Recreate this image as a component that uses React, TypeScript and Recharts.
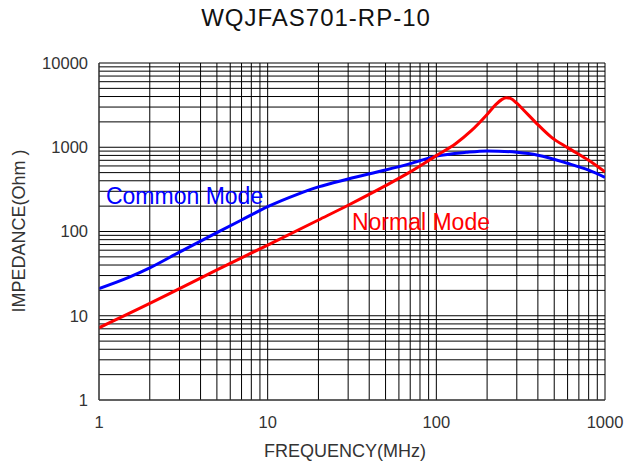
import { LineChart, Line, XAxis, YAxis, CartesianGrid, ReferenceDot } from 'recharts';

// frequency in MHz, impedance in Ohm
const cmFreq: number[] = [1, 1.5, 2, 3, 5, 7, 10, 15, 20, 30, 50, 70, 100, 150, 200, 300, 400, 600, 800, 1000];
const cmImp: number[] = [21, 28.5, 37, 57, 97, 137, 197, 276, 338, 420, 537, 640, 785, 870, 905, 870, 805, 645, 535, 440];

const nmFreq: number[] = [1, 2, 3, 5, 10, 20, 30, 50, 70, 100, 130, 160, 200, 225, 245, 260, 275, 300, 330, 390, 480, 600, 800, 1000];
const nmImp: number[] = [7.2, 14, 21, 35, 69, 137, 205, 350, 510, 795, 1100, 1550, 2450, 3200, 3700, 3870, 3800, 3330, 2750, 1950, 1320, 990, 700, 510];

const xTicks: number[] = [1, 2, 3, 4, 5, 6, 7, 8, 9, 10, 20, 30, 40, 50, 60, 70, 80, 90, 100, 200, 300, 400, 500, 600, 700, 800, 900, 1000];
const yTicks: number[] = [
  1, 2, 3, 4, 5, 6, 7, 8, 9,
  10, 20, 30, 40, 50, 60, 70, 80, 90,
  100, 200, 300, 400, 500, 600, 700, 800, 900,
  1000, 2000, 3000, 4000, 5000, 6000, 7000, 8000, 9000, 10000,
];
const decades: number[] = [1, 10, 100, 1000, 10000];

const cmData = cmFreq.map((f, i) => ({ f, v: cmImp[i] }));
const nmData = nmFreq.map((f, i) => ({ f, v: nmImp[i] }));

const font = '"Liberation Sans", Arial, sans-serif';
const decadeLabel = (v: number) => (decades.includes(v) ? String(v) : '');

export default function App() {
  const blue = '#0000ff';
  const red = '#ff0000';
  return (
    <div style={{ position: 'absolute', left: 0, top: 0, width: 635, height: 467, fontFamily: font, background: '#fff' }}>
      <div style={{ position: 'absolute', left: 0, width: 632, top: 4, textAlign: 'center', fontSize: 24, letterSpacing: 1, color: '#111' }}>
        WQJFAS701-RP-10
      </div>
      <div style={{ position: 'absolute', left: 0, width: 690, top: 441, textAlign: 'center', fontSize: 18, color: '#333' }}>
        FREQUENCY(MHz)
      </div>
      <div
        style={{
          position: 'absolute', left: 19, top: 231, width: 200, marginLeft: -100, marginTop: -11, textAlign: 'center',
          fontSize: 18, color: '#333', transform: 'rotate(-90deg)', lineHeight: '22px',
        }}
      >
        IMPEDANCE(Ohm )
      </div>
      <LineChart width={635} height={467} margin={{ top: 63, right: 30, left: 39, bottom: 37 }} style={{ position: 'absolute', left: 0, top: 0 }}>
        <CartesianGrid stroke="#000" strokeWidth={1} />
        <XAxis
          dataKey="f"
          type="number"
          scale="log"
          domain={[1, 1000]}
          ticks={xTicks}
          interval={0}
          allowDataOverflow
          height={30}
          tickFormatter={decadeLabel}
          tickSize={0}
          tickMargin={16}
          axisLine={{ stroke: '#444' }}
          tick={{ fill: '#333', fontSize: 16.5, fontFamily: font }}
        />
        <YAxis
          dataKey="v"
          type="number"
          scale="log"
          domain={[1, 10000]}
          ticks={yTicks}
          interval={0}
          allowDataOverflow
          width={60}
          tickFormatter={decadeLabel}
          tickSize={0}
          tickMargin={11}
          axisLine={{ stroke: '#444' }}
          tick={{ fill: '#333', fontSize: 16.5, fontFamily: font }}
        />
        <Line data={cmData} dataKey="v" type="monotone" stroke={blue} strokeWidth={3} dot={false} isAnimationActive={false} />
        <Line data={nmData} dataKey="v" type="monotone" stroke={red} strokeWidth={3} dot={false} isAnimationActive={false} />
        <ReferenceDot
          x={1.1}
          y={264}
          r={0}
          stroke="none"
          label={{ value: 'Common Mode', position: 'right', offset: 0, fill: blue, fontSize: 23, fontFamily: font }}
        />
        <ReferenceDot
          x={31.6}
          y={130}
          r={0}
          stroke="none"
          label={{ value: 'Normal Mode', position: 'right', offset: 0, fill: red, fontSize: 23, fontFamily: font }}
        />
      </LineChart>
    </div>
  );
}
